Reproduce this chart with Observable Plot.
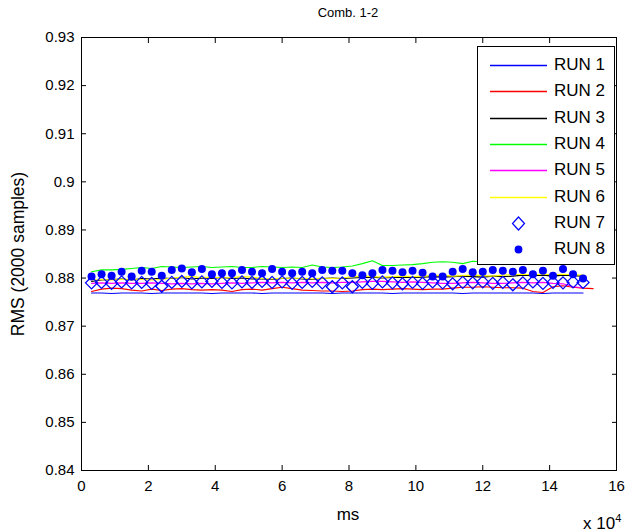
<!DOCTYPE html>
<html>
<head>
<meta charset="utf-8">
<script src="https://cdn.jsdelivr.net/npm/d3@7"></script>
<script src="https://cdn.jsdelivr.net/npm/@observablehq/plot@0.6"></script>
<style>
  html, body { margin: 0; padding: 0; background: #fff; }
  #wrap { position: relative; width: 633px; height: 532px; font-family: "Liberation Sans", Arial, sans-serif; color: #000; }
  #wrap svg { display: block; }
  .lbl { position: absolute; white-space: nowrap; line-height: 1; }
  #legend { position: absolute; left: 477px; top: 46px; width: 138px; height: 219px; box-sizing: border-box; border: 1px solid #000; background: #fff; }
  .lrow { position: absolute; left: 0; height: 20px; display: flex; align-items: center; }
  .lrow svg { margin-left: 12px; }
  .lrow span { margin-left: 7px; font-size: 17px; }
</style>
</head>
<body>
<div id="wrap"></div>
<script>
// ---- data ----
const titleText = "Comb. 1-2";
const xLabelText = "ms";
const yLabelText = "RMS (2000 samples)";
const runNames = ["RUN 1", "RUN 2", "RUN 3", "RUN 4", "RUN 5", "RUN 6", "RUN 7", "RUN 8"];
const runColors = ["#0000ff", "#ff0000", "#000000", "#00ff00", "#ff00ff", "#ffff00", "#0000ff", "#0000ff"];
const xTicks = [0, 20000, 40000, 60000, 80000, 100000, 120000, 140000, 160000];
const yTicks = [0.84, 0.85, 0.86, 0.87, 0.88, 0.89, 0.90, 0.91, 0.92, 0.93];
const timeMs = [3000, 6000, 9000, 12000, 15000, 18000, 21000, 24000, 27000, 30000,
  33000, 36000, 39000, 42000, 45000, 48000, 51000, 54000, 57000, 60000,
  63000, 66000, 69000, 72000, 75000, 78000, 81000, 84000, 87000, 90000,
  93000, 96000, 99000, 102000, 105000, 108000, 111000, 114000, 117000, 120000,
  123000, 126000, 129000, 132000, 135000, 138000, 141000, 144000, 147000, 150000, 153000];

const run1 = [0.8769, 0.8769, 0.8768, 0.8769, 0.8769, 0.8769, 0.8768, 0.8769, 0.8769, 0.8769,
  0.8769, 0.8769, 0.8768, 0.8769, 0.8769, 0.8769, 0.8769, 0.8768, 0.8769, 0.8769,
  0.8769, 0.8769, 0.8769, 0.8769, 0.8768, 0.8769, 0.8769, 0.8769, 0.8769, 0.8769,
  0.8768, 0.8769, 0.8769, 0.8769, 0.8769, 0.8769, 0.8769, 0.8768, 0.8769, 0.8769,
  0.8769, 0.8769, 0.8769, 0.8769, 0.8769, 0.8768, 0.8769, 0.8769, 0.8769, 0.8769];
const run2 = [0.8772, 0.8777, 0.8779, 0.8778, 0.8775, 0.8773, 0.8777, 0.8774,
  0.8777, 0.8778, 0.8776, 0.8775, 0.8776, 0.8775, 0.8772, 0.8776, 0.8777,
  0.8775, 0.8778, 0.8781, 0.8778, 0.8775, 0.8774, 0.8773, 0.8773, 0.8772,
  0.8773, 0.8776, 0.8777, 0.8776, 0.8777, 0.8778, 0.8777, 0.8776,
  0.8777, 0.8777, 0.8779, 0.8781, 0.8781, 0.8782, 0.8781, 0.8780, 0.8780,
  0.8779, 0.8772, 0.8770, 0.8782, 0.8784, 0.8781, 0.8779, 0.8778];
const run3 = [0.8793, 0.8796, 0.8797, 0.8798, 0.8796, 0.8799, 0.8798, 0.8800,
  0.8799, 0.8801, 0.8798, 0.8800, 0.8799, 0.8801, 0.8799, 0.8800, 0.8798,
  0.8798, 0.8797, 0.8799, 0.8800, 0.8798, 0.8797, 0.8799, 0.8800, 0.8799,
  0.8800, 0.8801, 0.8802, 0.8800, 0.8801, 0.8802, 0.8801, 0.8802,
  0.8803, 0.8802, 0.8803, 0.8804, 0.8803, 0.8802, 0.8804, 0.8803, 0.8804,
  0.8806, 0.8805, 0.8806, 0.8804, 0.8806, 0.8805, 0.8804];
const run4 = [0.8813, 0.8817, 0.8817, 0.8818, 0.8820, 0.8822, 0.8820, 0.8824,
  0.8823, 0.8822, 0.8823, 0.8824, 0.8822, 0.8823, 0.8824, 0.8822, 0.8822,
  0.8824, 0.8823, 0.8822, 0.8823, 0.8822, 0.8827, 0.8823, 0.8822, 0.8823,
  0.8825, 0.8830, 0.8836, 0.8826, 0.8826, 0.8827, 0.8828, 0.8830,
  0.8833, 0.8834, 0.8833, 0.8830, 0.8835, 0.8834, 0.8833, 0.8834, 0.8836,
  0.8835, 0.8837, 0.8836, 0.8838, 0.8836, 0.8835, 0.8834];
const run5 = [0.8789, 0.8790, 0.8789, 0.8790, 0.8789, 0.8789, 0.8790, 0.8789,
  0.8788, 0.8789, 0.8788, 0.8789, 0.8788, 0.8789, 0.8790, 0.8789, 0.8790,
  0.8791, 0.8790, 0.8791, 0.8790, 0.8791, 0.8790, 0.8791, 0.8790, 0.8791,
  0.8791, 0.8792, 0.8793, 0.8793, 0.8792, 0.8791, 0.8792, 0.8791,
  0.8790, 0.8789, 0.8789, 0.8790, 0.8791, 0.8790, 0.8789, 0.8789, 0.8790,
  0.8791, 0.8790, 0.8791, 0.8789, 0.8788, 0.8782, 0.8780];
const run6 = [0.8796, 0.8797, 0.8796, 0.8797, 0.8798, 0.8797, 0.8796, 0.8797,
  0.8800, 0.8802, 0.8803, 0.8801, 0.8802, 0.8800, 0.8801, 0.8803, 0.8802,
  0.8799, 0.8798, 0.8800, 0.8799, 0.8800, 0.8798, 0.8800, 0.8799, 0.8800,
  0.8803, 0.8804, 0.8803, 0.8802, 0.8803, 0.8804, 0.8803, 0.8804,
  0.8805, 0.8806, 0.8804, 0.8805, 0.8806, 0.8805, 0.8804, 0.8806, 0.8807,
  0.8808, 0.8807, 0.8808, 0.8807, 0.8808, 0.8807, 0.8806];
const run7 = [0.8790, 0.8791, 0.8789, 0.8792, 0.8790, 0.8791, 0.8789, 0.8783,
  0.8791, 0.8793, 0.8790, 0.8792, 0.8793, 0.8791, 0.8790, 0.8792, 0.8791,
  0.8793, 0.8791, 0.8792, 0.8789, 0.8791, 0.8793, 0.8790, 0.8782, 0.8790,
  0.8782, 0.8791, 0.8789, 0.8792, 0.8790, 0.8788, 0.8791, 0.8789,
  0.8792, 0.8790, 0.8788, 0.8791, 0.8790, 0.8792, 0.8789, 0.8791, 0.8786,
  0.8790, 0.8792, 0.8789, 0.8791, 0.8790, 0.8792, 0.8791];
const run8 = [0.8803, 0.8808, 0.8805, 0.8813, 0.8803, 0.8815, 0.8813, 0.8805,
  0.8817, 0.8820, 0.8812, 0.8819, 0.8808, 0.8810, 0.8810, 0.8817, 0.8813,
  0.8810, 0.8819, 0.8813, 0.8810, 0.8813, 0.8810, 0.8817, 0.8815, 0.8815,
  0.8810, 0.8806, 0.8810, 0.8817, 0.8815, 0.8812, 0.8815, 0.8811,
  0.8803, 0.8803, 0.8813, 0.8819, 0.8812, 0.8813, 0.8817, 0.8815, 0.8813,
  0.8817, 0.8808, 0.8815, 0.8805, 0.8819, 0.8808, 0.8799];

const allRuns = [run1, run2, run3, run4, run5, run6, run7, run8];

// ---- build tables ----
const rows = allRuns.map((vals, k) => vals.map((v, i) => ({t: timeMs[i], rms: v, run: runNames[k]})));

const fmtY = d => String(+d.toFixed(2));
const fmtX = d => String(d / 1e4);

const lineMarks = rows.slice(0, 6).map((r, k) =>
  Plot.line(r, {x: "t", y: "rms", stroke: runColors[k], strokeWidth: 1.1}));

const chart = Plot.plot({
  width: 633,
  height: 532,
  marginLeft: 81,
  marginRight: 17,
  marginTop: 37,
  marginBottom: 62,
  style: {fontFamily: "'Liberation Sans', Arial, sans-serif", fontSize: "15px", background: "#fff", color: "#000", overflow: "visible"},
  x: {domain: [0, 160000], label: null},
  y: {domain: [0.84, 0.93], label: null},
  marks: [
    Plot.axisX(xTicks, {anchor: "bottom", tickSize: -5, tickPadding: 15, tickFormat: fmtX, label: null, fontSize: 15}),
    Plot.axisX(xTicks, {anchor: "top", tickSize: -5, tickFormat: () => "", label: null}),
    Plot.axisY(yTicks, {anchor: "left", tickSize: -5, tickPadding: 12, tickFormat: fmtY, label: null, fontSize: 15}),
    Plot.axisY(yTicks, {anchor: "right", tickSize: -5, tickFormat: () => "", label: null}),
    ...lineMarks,
    Plot.dot(rows[6], {x: "t", y: "rms", symbol: "diamond2", r: 5.4, stroke: runColors[6], fill: "none", strokeWidth: 1.3}),
    Plot.dot(rows[7], {x: "t", y: "rms", r: 4, fill: runColors[7], stroke: "none"}),
    Plot.frame({stroke: "#000", strokeWidth: 1})
  ]
});

const wrap = document.getElementById("wrap");
wrap.appendChild(chart);

function addLabel(text, css, html) {
  const d = document.createElement("div");
  d.className = "lbl";
  if (html) d.innerHTML = text; else d.textContent = text;
  Object.assign(d.style, css);
  wrap.appendChild(d);
  return d;
}
addLabel(titleText, {left: "348px", top: "6px", transform: "translateX(-50%)", fontSize: "13px"});
addLabel(xLabelText, {left: "348px", top: "506px", transform: "translateX(-50%)", fontSize: "17px"});
addLabel(yLabelText, {left: "19px", top: "254px", transform: "translate(-50%,-50%) rotate(-90deg)", fontSize: "17.5px"});
addLabel("x 10<sup style='font-size:11px;vertical-align:7px'>4</sup>", {left: "583px", top: "513px", fontSize: "17px"}, true);

// ---- legend ----
const legend = document.createElement("div");
legend.id = "legend";
wrap.appendChild(legend);
runNames.forEach((name, k) => {
  const row = document.createElement("div");
  row.className = "lrow";
  row.style.top = Math.round(8 + k * 26.3) + "px";
  const ns = "http://www.w3.org/2000/svg";
  const svg = document.createElementNS(ns, "svg");
  svg.setAttribute("width", 57);
  svg.setAttribute("height", 20);
  if (k < 6) {
    const l = document.createElementNS(ns, "line");
    l.setAttribute("x1", 0); l.setAttribute("x2", 57);
    l.setAttribute("y1", 10.5); l.setAttribute("y2", 10.5);
    l.setAttribute("stroke", runColors[k]); l.setAttribute("stroke-width", 1.6);
    svg.appendChild(l);
  } else if (k === 6) {
    const p = document.createElementNS(ns, "path");
    p.setAttribute("d", "M28.5,4 L34.5,10.5 L28.5,17 L22.5,10.5 Z");
    p.setAttribute("fill", "none"); p.setAttribute("stroke", runColors[k]); p.setAttribute("stroke-width", 1.2);
    svg.appendChild(p);
  } else {
    const c = document.createElementNS(ns, "circle");
    c.setAttribute("cx", 28.5); c.setAttribute("cy", 10.5); c.setAttribute("r", 3.9);
    c.setAttribute("fill", runColors[k]);
    svg.appendChild(c);
  }
  row.appendChild(svg);
  const s = document.createElement("span");
  s.textContent = name;
  row.appendChild(s);
  legend.appendChild(row);
});
</script>
</body>
</html>
